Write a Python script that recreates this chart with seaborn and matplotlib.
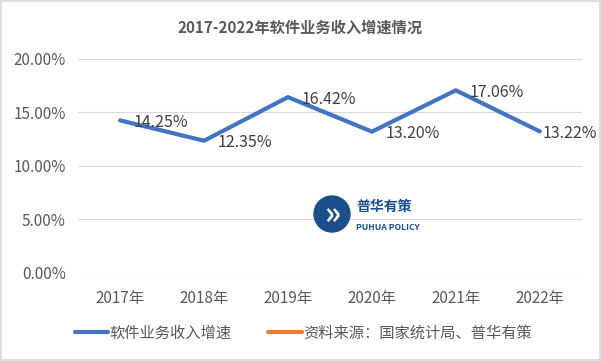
import pandas as pd
import matplotlib.pyplot as plt
import seaborn as sns
from matplotlib.lines import Line2D
from matplotlib.patches import Ellipse, Rectangle

years = ['2017年', '2018年', '2019年', '2020年', '2021年', '2022年']
growth = [14.25, 12.35, 16.42, 13.20, 17.06, 13.22]
yticks = [0, 5, 10, 15, 20]
series_name = '软件业务收入增速'
source_name = '资料来源：国家统计局、普华有策'

sns.set_style('white')
plt.rcParams['font.family'] = ['Noto Sans CJK SC', 'DejaVu Sans']

df = pd.DataFrame({'year': years, 'growth': growth})

fig = plt.figure(figsize=(6.01, 3.61), dpi=100)
ax = fig.add_axes([0.13, 0.244, 0.838, 0.593])

for t in yticks:
    ax.axhline(t, color='#d9d9d9', lw=0.8, zorder=0)

sns.lineplot(data=df, x='year', y='growth', ax=ax, color='#4472c4', lw=3,
             sort=False, legend=False)

# labels sit right of each point; the last one is pulled in to stay inside the chart
for i, v in enumerate(growth):
    dx = 2 if i == len(growth) - 1 else 10
    ax.annotate(f'{v:.2f}%', (i, v), xytext=(dx, -1.5), textcoords='offset points',
                ha='left', va='center', fontsize=11.5, color='#404040')

ax.set_xlim(-0.5, 5.5)
ax.set_ylim(0, 20)
ax.set_yticks(yticks)
ax.set_yticklabels([f'{t:.2f}%' for t in yticks])
ax.set_xlabel('')
ax.set_ylabel('')
ax.tick_params(axis='both', length=0, labelsize=11, colors='#595959')
ax.tick_params(axis='x', pad=12)
ax.tick_params(axis='y', pad=9)
for s in ax.spines.values():
    s.set_visible(False)

fig.text(0.5, 0.922, '2017-2022年软件业务收入增速情况', ha='center', va='center',
         fontsize=11, fontweight='bold', color='#595959')

# watermark logo
fig.patches.append(Ellipse((332 / 601, 1 - 214 / 361), 36 / 601, 36 / 361,
                           transform=fig.transFigure, color='#1a4f8b', zorder=5))
fig.text(332 / 601, 1 - 215 / 361, '»', ha='center', va='center', fontsize=22,
         color='white', fontweight='bold', zorder=6)
fig.text(356 / 601, 1 - 207 / 361, '普华有策', ha='left', va='center', fontsize=10,
         fontweight='bold', color='#1a4f8b', zorder=6)
fig.text(356 / 601, 1 - 228 / 361, 'PUHUA POLICY', ha='left', va='center',
         fontsize=6.2, fontweight='bold', color='#1a4f8b', zorder=6)

handles = [Line2D([], [], color='#4472c4', lw=3),
           Line2D([], [], color='#ed7d31', lw=3)]
fig.legend(handles, [series_name, source_name], loc='center', ncol=2,
           bbox_to_anchor=(0.505, 0.077), frameon=False, fontsize=11,
           handlelength=2.2, handletextpad=0.1, columnspacing=2.4,
           labelcolor='#595959')

fig.patches.append(Rectangle((0.001, 0.002), 0.997, 0.995, transform=fig.transFigure,
                             fill=False, edgecolor='#d9d9d9', lw=1.2))

fig.savefig('out.png', dpi=100)
